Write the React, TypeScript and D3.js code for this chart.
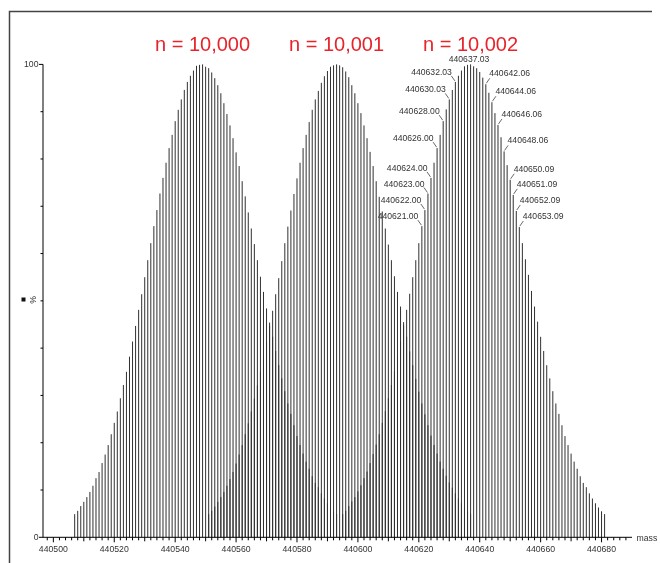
import React, { useEffect, useRef } from 'react';
import * as d3 from 'd3';

// first isotope mass of each envelope (one stick per Da)
const dist1Start = 440507;
const dist2Start = 440551;
const dist3Start = 440595;

// relative intensity (%) of each stick
const dist1 = [
  4.9, 5.6, 6.6, 7.5, 8.5, 9.6, 10.9, 12.5, 13.8, 15.7,
  17.5, 19.5, 21.8, 24.2, 26.6, 29.4, 32.2, 35.0, 38.2, 41.4,
  44.7, 48.1, 51.4, 55.0, 58.6, 62.2, 65.8, 69.2, 72.7, 76.0,
  79.2, 82.3, 85.1, 88.0, 90.4, 92.6, 94.6, 96.3, 97.6, 98.7,
  99.7, 99.9, 100,
  99.5, 99.2, 98.3, 97.1, 95.6, 93.9, 91.8, 89.5, 87.1, 84.4,
  81.4, 78.5, 75.3, 72.1, 68.7, 65.3, 62.0, 58.6, 55.1, 51.9,
  48.4, 45.4, 42.4, 39.4, 36.4, 33.6, 30.9, 28.3, 26.1, 23.7,
  21.4, 19.5, 17.7, 16.0, 14.5, 12.9, 11.5, 10.6, 9.3, 8.2,
  7.2, 6.3, 5.5, 4.9,
];

const dist2 = [
  4.9, 5.6, 6.5, 7.5, 8.5, 9.6, 10.9, 12.3, 13.8, 15.6,
  17.5, 19.5, 21.8, 24.1, 26.6, 29.3, 32.1, 35.0, 38.1, 41.3,
  44.7, 47.9, 51.4, 54.8, 58.4, 62.2, 65.7, 69.1, 72.6, 75.9,
  79.2, 82.3, 85.1, 87.8, 90.4, 92.6, 94.4, 96.1, 97.5, 98.6,
  99.5, 99.8, 100,
  99.8, 99.4, 98.5, 97.3, 95.6, 93.9, 91.8, 89.7, 87.1, 84.4,
  81.5, 78.5, 75.3, 72.0, 68.9, 65.3, 61.9, 58.6, 55.2, 51.9,
  48.8, 45.5, 42.4, 39.3, 36.4, 33.5, 30.8, 28.3, 26.0, 23.7,
  21.5, 19.5, 17.7, 16.0, 14.5, 13.0, 11.6, 10.5, 9.3, 8.2,
  7.2, 6.3, 5.5, 4.9,
];

const dist3 = [
  4.9, 5.6, 6.6, 7.6, 8.5, 9.7, 11.0, 12.5, 13.9, 15.7,
  17.6, 19.6, 21.8, 24.2, 26.7, 29.4, 32.2, 35.1, 38.2, 41.4,
  44.8, 48.1, 51.5, 55.0, 58.6, 62.2, 65.8, 69.2, 72.7, 76.0,
  79.2, 82.3, 85.1, 88.0, 90.5, 92.6, 94.6, 96.3, 97.6, 98.7,
  99.6, 99.9, 100,
  99.6, 99.2, 98.4, 97.2, 95.8, 94.0, 92.0, 89.7, 87.2, 84.6,
  81.6, 78.7, 75.6, 72.4, 69.0, 65.6, 62.2, 58.8, 55.5, 52.1,
  48.8, 45.6, 42.4, 39.4, 36.4, 33.6, 30.9, 28.3, 26.1, 23.7,
  21.4, 19.5, 17.7, 16.0, 14.5, 12.9, 11.5, 10.6, 9.3, 8.2,
  7.2, 6.3, 5.5, 4.9,
];

const titles = ['n = 10,000', 'n = 10,001', 'n = 10,002'];

// annotated peaks of the third envelope
const leftLabels = [440621.00, 440622.00, 440623.00, 440624.00, 440626.00, 440628.00, 440630.03, 440632.03];
const topLabel = 440637.03;
const rightLabels = [440642.06, 440644.06, 440646.06, 440648.06, 440650.09, 440651.09, 440652.09, 440653.09];

const xTickLabels = [440500, 440520, 440540, 440560, 440580, 440600, 440620, 440640, 440660, 440680];

function App() {
  const ref = useRef<SVGSVGElement>(null);

  useEffect(() => {
    const height = 563;
    const svg = d3.select(ref.current);
    svg.selectAll('*').remove();

    const x = d3.scaleLinear().domain([440496.6, 440690]).range([43, 632]);
    const y = d3.scaleLinear().domain([0, 100]).range([537.3, 64.4]);

    const font = 'Liberation Sans, Arial, sans-serif';
    const textColor = '#333';

    // frame
    svg.append('path')
      .attr('d', `M9.5,${height} V11.5 H652`)
      .attr('fill', 'none')
      .attr('stroke', '#444')
      .attr('stroke-width', 1.5);

    const dists = [
      { start: dist1Start, values: dist1 },
      { start: dist2Start, values: dist2 },
      { start: dist3Start, values: dist3 },
    ];

    // sticks; "darken" keeps overlapping envelopes from piling up ink
    const sticks = svg.append('g')
      .attr('stroke', '#303030')
      .attr('stroke-width', 1);
    dists.forEach((d) => {
      sticks.selectAll(null)
        .data(d.values)
        .join('line')
        .style('mix-blend-mode', 'darken')
        .attr('x1', (_, i) => x(d.start + i))
        .attr('x2', (_, i) => x(d.start + i))
        .attr('y1', y(0))
        .attr('y2', (v) => y(v));
    });

    // titles above each envelope
    svg.append('g')
      .selectAll('text')
      .data(dists)
      .join('text')
      .attr('x', (d) => x(d.start + d.values.indexOf(d3.max(d.values) as number)))
      .attr('y', 50.5)
      .attr('text-anchor', 'middle')
      .attr('font-family', font)
      .attr('font-size', 20)
      .attr('fill', '#e8232a')
      .text((_, i) => titles[i]);

    // peak annotations
    const peakPos = (m: number) => {
      const i = Math.floor(m - dist3Start);
      return { px: x(dist3Start + i), py: y(dist3[i]) };
    };
    const ann = svg.append('g')
      .attr('font-family', font)
      .attr('font-size', 8.6)
      .attr('fill', textColor);

    leftLabels.forEach((m) => {
      const { px, py } = peakPos(m);
      ann.append('line')
        .attr('x1', px - 0.5).attr('y1', py - 1)
        .attr('x2', px - 4).attr('y2', py - 6)
        .attr('stroke', '#444').attr('stroke-width', 0.8);
      ann.append('text')
        .attr('x', px - 3.5).attr('y', py - 7)
        .attr('text-anchor', 'end')
        .text(m.toFixed(2));
    });
    rightLabels.forEach((m) => {
      const { px, py } = peakPos(m);
      ann.append('line')
        .attr('x1', px + 0.5).attr('y1', py - 1)
        .attr('x2', px + 4).attr('y2', py - 6)
        .attr('stroke', '#444').attr('stroke-width', 0.8);
      ann.append('text')
        .attr('x', px + 3.5).attr('y', py - 8)
        .attr('text-anchor', 'start')
        .text(m.toFixed(2));
    });
    {
      const { px, py } = peakPos(topLabel);
      ann.append('text')
        .attr('x', px - 1.5).attr('y', py - 2.5)
        .attr('text-anchor', 'middle')
        .text(topLabel.toFixed(2));
    }

    // x axis
    const xAxis = svg.append('g').attr('stroke', '#000');
    xAxis.append('line')
      .attr('x1', x.range()[0]).attr('x2', x.range()[1])
      .attr('y1', y(0)).attr('y2', y(0));
    xAxis.selectAll('line.tick')
      .data(d3.range(440498, 440690, 2))
      .join('line')
      .attr('class', 'tick')
      .attr('x1', (d) => x(d)).attr('x2', (d) => x(d))
      .attr('y1', y(0))
      .attr('y2', (d) => y(0) + (d % 20 === 0 ? 5 : d % 10 === 0 ? 4 : 3));
    svg.append('g')
      .attr('font-family', font)
      .attr('font-size', 8.7)
      .attr('fill', textColor)
      .attr('text-anchor', 'middle')
      .selectAll('text')
      .data(xTickLabels)
      .join('text')
      .attr('x', (d) => x(d))
      .attr('y', 551.5)
      .text((d) => d);
    svg.append('text')
      .attr('x', 636.5).attr('y', 540.5)
      .attr('font-family', font).attr('font-size', 8.7)
      .attr('fill', textColor)
      .text('mass');

    // y axis
    const yAxis = svg.append('g').attr('stroke', '#000');
    yAxis.append('line')
      .attr('x1', 43).attr('x2', 43)
      .attr('y1', y(100)).attr('y2', y(0));
    yAxis.selectAll('line.tick')
      .data(d3.range(0, 101, 10))
      .join('line')
      .attr('class', 'tick')
      .attr('x1', 43).attr('x2', (d) => (d === 0 || d === 100 ? 39 : 40.5))
      .attr('y1', (d) => y(d)).attr('y2', (d) => y(d));
    svg.append('g')
      .attr('font-family', font)
      .attr('font-size', 8.7)
      .attr('fill', textColor)
      .attr('text-anchor', 'end')
      .selectAll('text')
      .data([0, 100])
      .join('text')
      .attr('x', 38.5)
      .attr('y', (d) => y(d) + 3)
      .text((d) => d);

    svg.append('rect')
      .attr('x', 21.5).attr('y', 297.5)
      .attr('width', 4).attr('height', 4)
      .attr('fill', '#111');
    svg.append('text')
      .attr('transform', 'translate(35.5,300) rotate(-90)')
      .attr('text-anchor', 'middle')
      .attr('font-family', font).attr('font-size', 8.7)
      .attr('fill', textColor)
      .text('%');
  }, []);

  return (
    <svg
      ref={ref}
      width={660}
      height={563}
      style={{ position: 'absolute', left: 0, top: 0, background: '#fff' }}
    />
  );
}

export default App;
